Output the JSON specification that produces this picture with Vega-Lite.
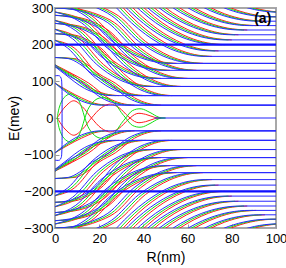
{
"$schema": "https://vega.github.io/schema/vega-lite/v6.json",
"width": 221, "height": 220, "autosize": "none",
"padding": {"left": 55, "top": 8, "right": 10, "bottom": 40},
"datasets": {
"m": [
{"k":"a","b":0,"g":0,"r":0,"y":165,"n":-165},{"k":"a","b":6,"g":7.5,"r":9,"y":162,"n":-162},{"k":"a","b":11,"g":12.5,"r":14,"y":148,"n":-148},{"k":"a","b":17,"g":18.5,"r":20,"y":120,"n":-120},{"k":"a","b":24.3,"g":25.8,"r":27.3,"y":95,"n":-95},{"k":"a","b":33,"g":34.5,"r":36,"y":55,"n":-55},{"k":"a","b":39,"g":40.5,"r":42,"y":40,"n":-40},{"k":"a","b":45,"g":46.5,"r":48,"y":35,"n":-35},{"k":"a","b":100,"g":null,"r":null,"y":35,"n":-35},
{"k":"b","b":0,"g":0,"r":0,"y":230,"n":-230},{"k":"b","b":6,"g":7.5,"r":9,"y":226,"n":-226},{"k":"b","b":12,"g":13.5,"r":15,"y":212,"n":-212},{"k":"b","b":17.7,"g":19.2,"r":20.7,"y":191,"n":-191},{"k":"b","b":28.1,"g":29.6,"r":31.1,"y":121,"n":-121},{"k":"b","b":37.3,"g":38.8,"r":40.3,"y":81,"n":-81},{"k":"b","b":43.7,"g":45.2,"r":46.7,"y":66,"n":-66},{"k":"b","b":50,"g":51.5,"r":53,"y":61,"n":-61},{"k":"b","b":100,"g":null,"r":null,"y":61,"n":-61},
{"k":"c","b":0,"g":0,"r":0,"y":258,"n":-258},{"k":"c","b":7,"g":8.5,"r":10,"y":252,"n":-252},{"k":"c","b":14,"g":15.5,"r":17,"y":238,"n":-238},{"k":"c","b":20,"g":21.5,"r":23,"y":216,"n":-216},{"k":"c","b":30.9,"g":32.4,"r":33.9,"y":146,"n":-146},{"k":"c","b":40.6,"g":42.1,"r":43.6,"y":106,"n":-106},{"k":"c","b":47.3,"g":48.8,"r":50.3,"y":91,"n":-91},{"k":"c","b":54,"g":55.5,"r":57,"y":86,"n":-86},{"k":"c","b":100,"g":null,"r":null,"y":86,"n":-86},
{"k":"d","b":0,"g":0,"r":0,"y":280,"n":-280},{"k":"d","b":7,"g":8.5,"r":10,"y":275,"n":-275},{"k":"d","b":15,"g":16.5,"r":18,"y":260,"n":-260},{"k":"d","b":21.4,"g":22.9,"r":24.4,"y":238,"n":-238},{"k":"d","b":32.8,"g":34.3,"r":35.8,"y":168,"n":-168},{"k":"d","b":43,"g":44.5,"r":46,"y":128,"n":-128},{"k":"d","b":50,"g":51.5,"r":53,"y":113,"n":-113},{"k":"d","b":57,"g":58.5,"r":60,"y":108,"n":-108},{"k":"d","b":100,"g":null,"r":null,"y":108,"n":-108},
{"k":"e","b":0,"g":0,"r":0,"y":300,"n":-300},{"k":"e","b":8,"g":9.5,"r":11,"y":296,"n":-296},{"k":"e","b":16,"g":17.5,"r":19,"y":283,"n":-283},{"k":"e","b":23.9,"g":25.4,"r":26.9,"y":260,"n":-260},{"k":"e","b":35.8,"g":37.3,"r":38.8,"y":190,"n":-190},{"k":"e","b":46.4,"g":47.9,"r":49.4,"y":150,"n":-150},{"k":"e","b":53.7,"g":55.2,"r":56.7,"y":135,"n":-135},{"k":"e","b":61,"g":62.5,"r":64,"y":130,"n":-130},{"k":"e","b":100,"g":null,"r":null,"y":130,"n":-130},
{"k":"f","b":0,"g":0,"r":0,"y":330,"n":-330},{"k":"f","b":10,"g":11.5,"r":13,"y":322,"n":-322},{"k":"f","b":18,"g":19.5,"r":21,"y":303,"n":-303},{"k":"f","b":25.6,"g":27.1,"r":28.6,"y":279,"n":-279},{"k":"f","b":37.9,"g":39.4,"r":40.9,"y":209,"n":-209},{"k":"f","b":48.9,"g":50.4,"r":51.9,"y":169,"n":-169},{"k":"f","b":56.5,"g":58,"r":59.5,"y":154,"n":-154},{"k":"f","b":64,"g":65.5,"r":67,"y":149,"n":-149},{"k":"f","b":100,"g":null,"r":null,"y":149,"n":-149},
{"k":"h","b":11.2,"g":12.7,"r":14.2,"y":433,"n":-433},{"k":"h","b":28.2,"g":29.7,"r":31.2,"y":298,"n":-298},{"k":"h","b":41,"g":42.5,"r":44,"y":228,"n":-228},{"k":"h","b":52.4,"g":53.9,"r":55.4,"y":188,"n":-188},{"k":"h","b":60.2,"g":61.7,"r":63.2,"y":173,"n":-173},{"k":"h","b":68,"g":69.5,"r":71,"y":168,"n":-168},{"k":"h","b":100,"g":null,"r":null,"y":168,"n":-168},
{"k":"i","b":12.7,"g":14.2,"r":15.7,"y":448,"n":-448},{"k":"i","b":30.2,"g":31.7,"r":33.2,"y":313,"n":-313},{"k":"i","b":43.3,"g":44.8,"r":46.3,"y":243,"n":-243},{"k":"i","b":55,"g":56.5,"r":58,"y":203,"n":-203},{"k":"i","b":63,"g":64.5,"r":66,"y":188,"n":-188},{"k":"i","b":71,"g":72.5,"r":74,"y":183,"n":-183},{"k":"i","b":100,"g":null,"r":null,"y":183,"n":-183},
{"k":"j","b":32,"g":33.5,"r":35,"y":330,"n":-330},{"k":"j","b":45.5,"g":47,"r":48.5,"y":260,"n":-260},{"k":"j","b":57.5,"g":59,"r":60.5,"y":220,"n":-220},{"k":"j","b":65.8,"g":67.3,"r":68.8,"y":205,"n":-205},{"k":"j","b":74,"g":75.5,"r":77,"y":200,"n":-200},{"k":"j","b":100,"g":null,"r":null,"y":200,"n":-200},
{"k":"l","b":34.1,"g":35.6,"r":37.1,"y":343,"n":-343},{"k":"l","b":47.8,"g":49.3,"r":50.8,"y":273,"n":-273},{"k":"l","b":60.2,"g":61.7,"r":63.2,"y":233,"n":-233},{"k":"l","b":68.6,"g":70.1,"r":71.6,"y":218,"n":-218},{"k":"l","b":77,"g":78.5,"r":80,"y":213,"n":-213},{"k":"l","b":100,"g":null,"r":null,"y":213,"n":-213},
{"k":"o","b":36.1,"g":37.6,"r":39.1,"y":357,"n":-357},{"k":"o","b":50.2,"g":51.7,"r":53.2,"y":287,"n":-287},{"k":"o","b":62.8,"g":64.3,"r":65.8,"y":247,"n":-247},{"k":"o","b":71.4,"g":72.9,"r":74.4,"y":232,"n":-232},{"k":"o","b":80,"g":81.5,"r":83,"y":227,"n":-227},{"k":"o","b":100,"g":null,"r":null,"y":227,"n":-227},
{"k":"p","b":39.2,"g":40.7,"r":42.2,"y":370,"n":-370},{"k":"p","b":53.5,"g":55,"r":56.5,"y":300,"n":-300},{"k":"p","b":66.4,"g":67.9,"r":69.4,"y":260,"n":-260},{"k":"p","b":75.2,"g":76.7,"r":78.2,"y":245,"n":-245},{"k":"p","b":84,"g":85.5,"r":87,"y":240,"n":-240},{"k":"p","b":100,"g":null,"r":null,"y":240,"n":-240},
{"k":"q","b":42.3,"g":43.8,"r":45.3,"y":382,"n":-382},{"k":"q","b":57,"g":58.5,"r":60,"y":312,"n":-312},{"k":"q","b":70.1,"g":71.6,"r":73.1,"y":272,"n":-272},{"k":"q","b":79,"g":80.5,"r":82,"y":257,"n":-257},{"k":"q","b":88,"g":89.5,"r":91,"y":252,"n":-252},{"k":"q","b":100,"g":null,"r":null,"y":252,"n":-252},
{"k":"s","b":60.4,"g":61.9,"r":63.4,"y":324,"n":-324},{"k":"s","b":73.8,"g":75.3,"r":76.8,"y":284,"n":-284},{"k":"s","b":82.9,"g":84.4,"r":85.9,"y":269,"n":-269},{"k":"s","b":92,"g":93.5,"r":95,"y":264,"n":-264},{"k":"s","b":100,"g":null,"r":null,"y":264,"n":-264},
{"k":"t","b":64.8,"g":66.3,"r":67.8,"y":336,"n":-336},{"k":"t","b":78.4,"g":79.9,"r":81.4,"y":296,"n":-296},{"k":"t","b":87.7,"g":89.2,"r":90.7,"y":281,"n":-281},{"k":"t","b":97,"g":98.5,"r":100,"y":276,"n":-276},{"k":"t","b":100,"g":101.5,"r":103,"y":276,"n":-276},
{"k":"u","b":69.3,"g":70.8,"r":72.3,"y":348,"n":-348},{"k":"u","b":83.1,"g":84.6,"r":86.1,"y":308,"n":-308},{"k":"u","b":92.6,"g":94.1,"r":95.6,"y":293,"n":-293},{"k":"u","b":102,"g":103.5,"r":105,"y":288,"n":-288},
{"k":"v","b":87.8,"g":89.3,"r":90.8,"y":318,"n":-318},{"k":"v","b":97.4,"g":98.9,"r":100.4,"y":303,"n":-303},{"k":"v","b":107,"g":108.5,"r":110,"y":298,"n":-298},
{"k":"a2","b":0,"g":0,"r":0,"y":145,"n":-145},{"k":"a2","b":5,"g":6.5,"r":8,"y":120,"n":-120},{"k":"a2","b":12.3,"g":13.8,"r":15.3,"y":95,"n":-95},{"k":"a2","b":21,"g":22.5,"r":24,"y":55,"n":-55},{"k":"a2","b":27,"g":28.5,"r":30,"y":40,"n":-40},{"k":"a2","b":33,"g":34.5,"r":36,"y":35,"n":-35},{"k":"a2","b":100,"g":null,"r":null,"y":35,"n":-35},
{"k":"a3","b":0,"g":0,"r":0,"y":95,"n":-95},{"k":"a3","b":9,"g":10.5,"r":12,"y":55,"n":-55},{"k":"a3","b":15,"g":16.5,"r":18,"y":40,"n":-40},{"k":"a3","b":21,"g":22.5,"r":24,"y":35,"n":-35},{"k":"a3","b":100,"g":null,"r":null,"y":35,"n":-35},
{"k":"b2","b":0,"g":0,"r":0,"y":212,"n":-212},{"k":"b2","b":5.7,"g":7.2,"r":8.7,"y":191,"n":-191},{"k":"b2","b":16.1,"g":17.6,"r":19.1,"y":121,"n":-121},{"k":"b2","b":25.3,"g":26.8,"r":28.3,"y":81,"n":-81},{"k":"b2","b":31.7,"g":33.2,"r":34.7,"y":66,"n":-66},{"k":"b2","b":38,"g":39.5,"r":41,"y":61,"n":-61},{"k":"b2","b":100,"g":null,"r":null,"y":61,"n":-61},
{"k":"b3","b":0,"g":0,"r":0,"y":140,"n":-140},{"k":"b3","b":4.1,"g":5.6,"r":7.1,"y":121,"n":-121},{"k":"b3","b":13.3,"g":14.8,"r":16.3,"y":81,"n":-81},{"k":"b3","b":19.7,"g":21.2,"r":22.7,"y":66,"n":-66},{"k":"b3","b":26,"g":27.5,"r":29,"y":61,"n":-61},{"k":"b3","b":100,"g":null,"r":null,"y":61,"n":-61},
{"k":"c2","b":0,"g":0,"r":0,"y":242,"n":-242},{"k":"c2","b":8,"g":9.5,"r":11,"y":216,"n":-216},{"k":"c2","b":18.9,"g":20.4,"r":21.9,"y":146,"n":-146},{"k":"c2","b":28.6,"g":30.1,"r":31.6,"y":106,"n":-106},{"k":"c2","b":35.3,"g":36.8,"r":38.3,"y":91,"n":-91},{"k":"c2","b":42,"g":43.5,"r":45,"y":86,"n":-86},{"k":"c2","b":100,"g":null,"r":null,"y":86,"n":-86},
{"k":"d2","b":0,"g":0,"r":0,"y":266,"n":-266},{"k":"d2","b":9.4,"g":10.9,"r":12.4,"y":238,"n":-238},{"k":"d2","b":20.8,"g":22.3,"r":23.8,"y":168,"n":-168},{"k":"d2","b":31,"g":32.5,"r":34,"y":128,"n":-128},{"k":"d2","b":38,"g":39.5,"r":41,"y":113,"n":-113},{"k":"d2","b":45,"g":46.5,"r":48,"y":108,"n":-108},{"k":"d2","b":100,"g":null,"r":null,"y":108,"n":-108},
{"k":"e2","b":0,"g":0,"r":0,"y":289,"n":-289},{"k":"e2","b":11.9,"g":13.4,"r":14.9,"y":260,"n":-260},{"k":"e2","b":23.8,"g":25.3,"r":26.8,"y":190,"n":-190},{"k":"e2","b":34.4,"g":35.9,"r":37.4,"y":150,"n":-150},{"k":"e2","b":41.7,"g":43.2,"r":44.7,"y":135,"n":-135},{"k":"e2","b":49,"g":50.5,"r":52,"y":130,"n":-130},{"k":"e2","b":100,"g":null,"r":null,"y":130,"n":-130},
{"k":"f2","b":0,"g":0,"r":0,"y":313,"n":-313},{"k":"f2","b":6,"g":7.5,"r":9,"y":303,"n":-303},{"k":"f2","b":13.6,"g":15.1,"r":16.6,"y":279,"n":-279},{"k":"f2","b":25.9,"g":27.4,"r":28.9,"y":209,"n":-209},{"k":"f2","b":36.9,"g":38.4,"r":39.9,"y":169,"n":-169},{"k":"f2","b":44.5,"g":46,"r":47.5,"y":154,"n":-154},{"k":"f2","b":52,"g":53.5,"r":55,"y":149,"n":-149},{"k":"f2","b":100,"g":null,"r":null,"y":149,"n":-149}
],
"z": [
{"k":"ra","c":"r","x":1,"y":0},{"k":"ra","c":"r","x":4.5,"y":30},{"k":"ra","c":"r","x":8.5,"y":47},{"k":"ra","c":"r","x":12.5,"y":30},{"k":"ra","c":"r","x":16.5,"y":0},{"k":"ra","c":"r","x":21,"y":-28},{"k":"ra","c":"r","x":25,"y":-38},{"k":"ra","c":"r","x":29,"y":-28},{"k":"ra","c":"r","x":33,"y":-5},{"k":"ra","c":"r","x":37,"y":12},{"k":"ra","c":"r","x":41,"y":10},{"k":"ra","c":"r","x":45,"y":2},{"k":"ra","c":"r","x":48,"y":0},
{"k":"rb","c":"r","x":1,"y":0},{"k":"rb","c":"r","x":4.5,"y":-30},{"k":"rb","c":"r","x":8.5,"y":-47},{"k":"rb","c":"r","x":12.5,"y":-30},{"k":"rb","c":"r","x":16.5,"y":0},{"k":"rb","c":"r","x":21,"y":28},{"k":"rb","c":"r","x":25,"y":38},{"k":"rb","c":"r","x":29,"y":28},{"k":"rb","c":"r","x":33,"y":5},{"k":"rb","c":"r","x":37,"y":-12},{"k":"rb","c":"r","x":41,"y":-10},{"k":"rb","c":"r","x":45,"y":-2},{"k":"rb","c":"r","x":48,"y":0},
{"k":"ga","c":"g","x":1,"y":0},{"k":"ga","c":"g","x":2,"y":30},{"k":"ga","c":"g","x":4,"y":55},{"k":"ga","c":"g","x":7,"y":66},{"k":"ga","c":"g","x":10,"y":55},{"k":"ga","c":"g","x":12,"y":30},{"k":"ga","c":"g","x":13.5,"y":0},{"k":"ga","c":"g","x":15.5,"y":-30},{"k":"ga","c":"g","x":19,"y":-52},{"k":"ga","c":"g","x":23,"y":-55},{"k":"ga","c":"g","x":27,"y":-40},{"k":"ga","c":"g","x":30,"y":-15},{"k":"ga","c":"g","x":32,"y":0},{"k":"ga","c":"g","x":35,"y":20},{"k":"ga","c":"g","x":39,"y":25},{"k":"ga","c":"g","x":43,"y":15},{"k":"ga","c":"g","x":47,"y":2},{"k":"ga","c":"g","x":50,"y":0},
{"k":"gb","c":"g","x":1,"y":0},{"k":"gb","c":"g","x":2,"y":-30},{"k":"gb","c":"g","x":4,"y":-55},{"k":"gb","c":"g","x":7,"y":-66},{"k":"gb","c":"g","x":10,"y":-55},{"k":"gb","c":"g","x":12,"y":-30},{"k":"gb","c":"g","x":13.5,"y":0},{"k":"gb","c":"g","x":15.5,"y":30},{"k":"gb","c":"g","x":19,"y":52},{"k":"gb","c":"g","x":23,"y":55},{"k":"gb","c":"g","x":27,"y":40},{"k":"gb","c":"g","x":30,"y":15},{"k":"gb","c":"g","x":32,"y":0},{"k":"gb","c":"g","x":35,"y":-20},{"k":"gb","c":"g","x":39,"y":-25},{"k":"gb","c":"g","x":43,"y":-15},{"k":"gb","c":"g","x":47,"y":-2},{"k":"gb","c":"g","x":50,"y":0},
{"k":"bv","c":"b","x":0,"y":115},{"k":"bv","c":"b","x":2,"y":115},{"k":"bv","c":"b","x":2.8,"y":108},{"k":"bv","c":"b","x":3.1,"y":90},{"k":"bv","c":"b","x":3.2,"y":0},{"k":"bv","c":"b","x":3.1,"y":-90},{"k":"bv","c":"b","x":2.8,"y":-108},{"k":"bv","c":"b","x":2,"y":-115},{"k":"bv","c":"b","x":0,"y":-115},
{"k":"bz","c":"b","x":45,"y":0},{"k":"bz","c":"b","x":100,"y":0}
],
"t": [{"k":"p","x":0,"y":200},{"k":"p","x":100,"y":200},{"k":"m","x":0,"y":-200},{"k":"m","x":100,"y":-200}],
"a": [{"x":94,"y":270,"t":"(a)"}]
},
"layer": [
{"data":{"name":"m"},"mark":{"type":"line","stroke":"#ff1a1a","strokeWidth":1,"clip":true,"interpolate":"monotone"},
 "encoding":{"x":{"field":"r","type":"quantitative","title":"R(nm)","scale":{"domain":[0,100],"nice":false,"zero":false},"axis":{"values":[0,20,40,60,80,100],"titlePadding":5,"labelFlush":false,"labelOverlap":false,"labelPadding":8,"labelFontSize":13}},
 "y":{"field":"y","type":"quantitative","title":"E(mev)","scale":{"domain":[-300,300],"nice":false,"zero":false},"axis":{"values":[-300,-200,-100,0,100,200,300],"tickCount":7,"titlePadding":2,"labelOverlap":false,"labelSeparation":0,"labelFontSize":13}},
 "detail":{"field":"k"},"order":{"value":null}}},
{"data":{"name":"m"},"mark":{"type":"line","stroke":"#ff1a1a","strokeWidth":1,"clip":true,"interpolate":"monotone"},
 "encoding":{"x":{"field":"r","type":"quantitative","title":"R(nm)"},"y":{"field":"n","type":"quantitative","title":"E(mev)"},"detail":{"field":"k"},"order":{"value":null}}},
{"data":{"name":"m"},"mark":{"type":"line","stroke":"#10e010","strokeWidth":1,"clip":true,"interpolate":"monotone"},
 "encoding":{"x":{"field":"g","type":"quantitative","title":"R(nm)"},"y":{"field":"y","type":"quantitative","title":"E(mev)"},"detail":{"field":"k"},"order":{"value":null}}},
{"data":{"name":"m"},"mark":{"type":"line","stroke":"#10e010","strokeWidth":1,"clip":true,"interpolate":"monotone"},
 "encoding":{"x":{"field":"g","type":"quantitative","title":"R(nm)"},"y":{"field":"n","type":"quantitative","title":"E(mev)"},"detail":{"field":"k"},"order":{"value":null}}},
{"data":{"name":"z"},"mark":{"type":"line","strokeWidth":1,"clip":true,"interpolate":"catmull-rom"},
 "encoding":{"x":{"field":"x","type":"quantitative","title":"R(nm)"},"y":{"field":"y","type":"quantitative","title":"E(mev)"},"color":{"field":"c","type":"nominal","scale":{"domain":["r","g","b"],"range":["#ff1a1a","#10e010","#2020ff"]},"legend":null},"detail":{"field":"k"},"order":{"value":null}}},
{"data":{"name":"m"},"mark":{"type":"line","stroke":"#2828ff","strokeWidth":1,"clip":true,"interpolate":"monotone"},
 "encoding":{"x":{"field":"b","type":"quantitative","title":"R(nm)"},"y":{"field":"y","type":"quantitative","title":"E(mev)"},"detail":{"field":"k"},"order":{"value":null}}},
{"data":{"name":"m"},"mark":{"type":"line","stroke":"#2828ff","strokeWidth":1,"clip":true,"interpolate":"monotone"},
 "encoding":{"x":{"field":"b","type":"quantitative","title":"R(nm)"},"y":{"field":"n","type":"quantitative","title":"E(mev)"},"detail":{"field":"k"},"order":{"value":null}}},
{"data":{"name":"t"},"mark":{"type":"line","stroke":"#1010ff","strokeWidth":2.2,"clip":true},
 "encoding":{"x":{"field":"x","type":"quantitative","title":"R(nm)"},"y":{"field":"y","type":"quantitative","title":"E(mev)"},"detail":{"field":"k"}}},
{"data":{"name":"a"},"mark":{"type":"text","font":"Liberation Sans","fontSize":14,"fontWeight":"bold","color":"#000000"},
 "encoding":{"x":{"field":"x","type":"quantitative","title":"R(nm)"},"y":{"field":"y","type":"quantitative","title":"E(mev)"},"text":{"field":"t"}}}
],
"config": {
 "view": {"stroke": "#a8a8a8", "strokeWidth": 2},
 "axis": {"domain": false, "grid": false, "tickColor": "#999999", "tickSize": -4, "tickWidth": 1, "labelFont": "Liberation Sans", "labelFontSize": 14, "labelColor": "#000000", "labelPadding": 6, "labelOverlap": false, "titleFont": "Liberation Sans", "titleFontSize": 14, "titleFontWeight": "normal", "titleColor": "#000000"},
 "axisY": {"labelOverlap": false}
}
}
